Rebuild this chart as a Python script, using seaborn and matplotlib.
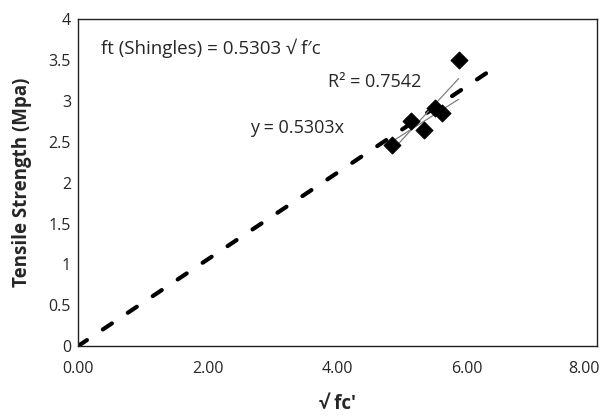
import numpy as np
import pandas as pd
import matplotlib
matplotlib.use("Agg")
import matplotlib.pyplot as plt
import matplotlib.transforms as mtransforms
import seaborn as sns

# Data
sqrt_fc = [4.85, 5.13, 5.33, 5.50, 5.62, 5.87]
tensile = [2.46, 2.76, 2.65, 2.91, 2.85, 3.50]
slope_origin = 0.5303
line_x_end = 6.35
x_ticks = [0, 2, 4, 6, 8]
x_tick_labels = ["0.00", "2.00", "4.00", "6.00", "8.00"]
y_ticks = [0, 0.5, 1, 1.5, 2, 2.5, 3, 3.5, 4]
y_tick_labels = ["0", "0.5", "1", "1.5", "2", "2.5", "3", "3.5", "4"]

sns.set_style("white")
plt.rcParams['font.family'] = ['Open Sans', 'DejaVu Sans']

fig = plt.figure(figsize=(6.04, 4.17), dpi=100)
ax = fig.add_axes([0.129, 0.170, 0.859, 0.784])

df = pd.DataFrame({"x": sqrt_fc, "y": tensile})

# dashed line through origin
lx = np.array([0, line_x_end])
sns.lineplot(x=lx, y=slope_origin * lx, ax=ax, color="black", lw=3,
             linestyle=(0, (2.6, 4.6)), dash_capstyle="round", zorder=2)

# thin trend lines
xs = np.array([min(sqrt_fc), max(sqrt_fc)])
m, b = np.polyfit(sqrt_fc, tensile, 1)
ax.plot(xs, m * xs + b, color="#808080", lw=0.9, zorder=3)
m2, b2 = np.polyfit(sqrt_fc[:-1], tensile[:-1], 1)
ax.plot(xs, m2 * xs + b2, color="#808080", lw=0.9, zorder=3)

sns.scatterplot(data=df, x="x", y="y", ax=ax, marker="D", s=75,
                color="black", edgecolor="black", zorder=4)

ax.set_xlim(0, 8)
ax.set_ylim(0, 4)
ax.set_xticks(x_ticks)
ax.set_xticklabels(x_tick_labels)
ax.set_yticks(y_ticks)
ax.set_yticklabels(y_tick_labels)
ax.tick_params(axis="both", length=0, labelsize=11.5)
ax.tick_params(axis="x", pad=11)
ax.tick_params(axis="y", pad=5)
last = ax.get_xticklabels()[-1]
last.set_transform(last.get_transform() +
                   mtransforms.ScaledTranslation(-0.13, 0, fig.dpi_scale_trans))
for s in ax.spines.values():
    s.set_color("#222222")
    s.set_linewidth(1.0)

ax.set_xlabel("√ fc′", fontsize=13.5, fontweight="bold", labelpad=12)
ax.set_ylabel("Tensile Strength (Mpa)", fontsize=13.5, fontweight="bold", labelpad=12)

ax.text(0.35, 3.65, "ft (Shingles) = 0.5303 √ f′c", fontsize=13.5, va="center")
ax.text(3.85, 3.23, "R² = 0.7542", fontsize=13, va="center")
ax.text(2.65, 2.67, "y = 0.5303x", fontsize=13, va="center")

fig.savefig("out.png", dpi=100)
